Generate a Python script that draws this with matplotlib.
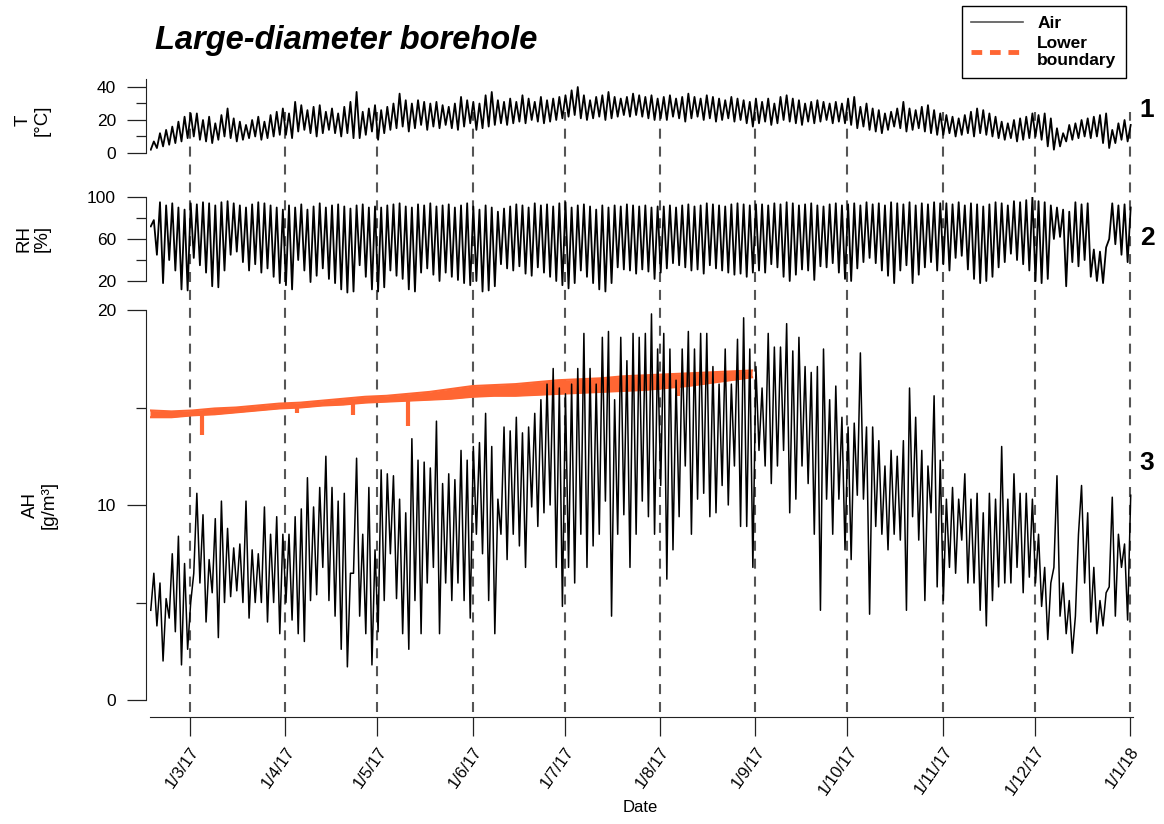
import numpy as np
import matplotlib
matplotlib.use("Agg")
import matplotlib.pyplot as plt
import matplotlib.dates as mdates
from matplotlib.lines import Line2D
from matplotlib.ticker import FixedLocator, FuncFormatter

plt.rcParams['font.family'] = ['Liberation Sans', 'DejaVu Sans']

# one low and one high every two days, starting 16 Feb 2017
start = np.datetime64('2017-02-16T00:00')

# Air temperature [°C]
t_high = [7, 12, 14, 16, 19, 22, 24,                                          # Feb
          24, 20, 22, 18, 23, 27, 21, 19, 17, 20, 22, 19, 23, 25, 27,         # Mar
          24, 31, 29, 26, 28, 29, 25, 27, 24, 28, 31, 37, 25, 27, 29,         # Apr
          26, 28, 30, 36, 32, 30, 32, 31, 30, 31, 29, 28, 30, 34, 32, 31,     # May
          30, 35, 37, 32, 31, 33, 31, 35, 33, 31, 34, 32, 33, 34, 35,         # Jun
          38, 40, 35, 32, 34, 35, 37, 34, 33, 34, 36, 35, 34, 35, 33,         # Jul
          34, 35, 33, 34, 36, 34, 33, 35, 34, 33, 32, 34, 33, 32, 31, 33,     # Aug
          31, 33, 30, 34, 35, 33, 32, 30, 31, 32, 31, 30, 31, 30, 33,         # Sep
          34, 28, 30, 27, 26, 24, 25, 27, 31, 27, 26, 28, 29, 26, 24,         # Oct
          23, 22, 21, 23, 25, 27, 26, 24, 22, 19, 18, 20, 21, 22, 24,         # Nov
          23, 24, 21, 15, 12, 17, 18, 20, 21, 22, 23, 24, 14, 18, 20, 17]     # Dec
t_low = [2, 3, 4, 5, 6, 7, 9,
         10, 8, 7, 6, 8, 10, 9, 7, 8, 9, 10, 8, 9, 10, 11,
         11, 9, 13, 14, 12, 10, 12, 14, 12, 10, 12, 9, 9, 11, 13,
         8, 12, 14, 15, 16, 13, 15, 17, 14, 16, 15, 17, 15, 14, 16, 18,
         14, 15, 16, 17, 18, 17, 18, 19, 18, 20, 19, 18, 19, 20, 21,
         22, 23, 21, 20, 21, 22, 20, 21, 22, 23, 22, 23, 22, 21, 20,
         21, 20, 22, 21, 19, 21, 22, 20, 21, 19, 20, 21, 19, 20, 18, 16,
         18, 19, 17, 18, 20, 19, 18, 17, 19, 18, 19, 20, 18, 19, 18,
         17, 15, 16, 14, 13, 12, 14, 16, 15, 13, 14, 15, 13, 12, 11,
         11, 12, 10, 11, 12, 10, 12, 11, 10, 9, 8, 9, 7, 8, 9,
         10, 8, 4, 2, 4, 7, 8, 9, 10, 9, 10, 6, 3, 6, 8, 7]

# Relative humidity [%]
rh_high = [78, 95, 92, 94, 90, 88, 94,
           93, 95, 94, 92, 95, 96, 94, 92, 90, 93, 95, 94, 92, 90, 88,
           92, 90, 93, 88, 91, 94, 90, 92, 93, 91, 89, 92, 93, 90, 91,
           90, 92, 93, 94, 91, 90, 93, 92, 94, 91, 92, 93, 90, 92, 94, 91,
           88, 92, 90, 86, 89, 91, 93, 92, 90, 94, 92, 93, 91, 94, 95,
           90, 92, 93, 91, 88, 92, 90, 92, 91, 93, 92, 91, 92, 90, 91,
           91, 92, 90, 92, 93, 91, 92, 94, 93, 92, 91, 93, 94, 93, 92, 93,
           93, 92, 94, 93, 95, 94, 92, 93, 94, 92, 91, 93, 94, 92, 93,
           94, 92, 95, 93, 94, 92, 95, 94, 93, 95, 92, 94, 93, 95, 94,
           94, 93, 95, 92, 94, 93, 91, 93, 95, 94, 92, 96, 95, 97, 100,
           96, 95, 92, 90, 88, 86, 95, 93, 94, 50, 48, 52, 94, 92, 93, 90]
rh_low = [72, 45, 18, 40, 30, 12, 11,
          42, 35, 28, 15, 14, 30, 45, 48, 38, 30, 36, 28, 32, 24, 18,
          16, 12, 40, 30, 19, 25, 32, 22, 18, 12, 9, 10, 35, 24, 12,
          10, 14, 30, 25, 22, 12, 10, 28, 32, 26, 20, 28, 24, 21, 18, 16,
          20, 10, 11, 15, 36, 32, 30, 34, 27, 25, 33, 28, 24, 20, 16,
          13, 18, 30, 24, 18, 12, 10, 18, 33, 31, 30, 27, 31, 29, 22,
          28, 32, 37, 35, 33, 30, 31, 27, 35, 32, 30, 28, 26, 27, 24, 28,
          30, 28, 36, 33, 24, 20, 26, 31, 30, 21, 34, 33, 37, 28, 22,
          20, 32, 38, 42, 37, 30, 25, 18, 30, 35, 18, 26, 33, 38, 30,
          36, 30, 42, 44, 31, 22, 18, 20, 24, 33, 38, 46, 40, 36, 30,
          20, 18, 22, 60, 62, 15, 38, 34, 40, 24, 20, 18, 60, 55, 45, 38]

# Absolute humidity [g/m3]
ah_high = [6.5, 6.0, 5.2, 7.5, 8.4, 7.0, 5.0,
           10.6, 9.5, 7.2, 9.3, 10.2, 8.8, 7.8, 8.0, 10.2, 7.7, 7.5, 9.9, 8.5, 9.4, 8.5,
           8.5, 9.4, 9.8, 11.4, 9.9, 10.9, 12.5, 10.9, 10.2, 10.6, 6.5, 12.4, 8.5, 10.9, 7.7,
           11.8, 11.6, 11.5, 10.3, 9.6, 13.4, 12.3, 12.2, 11.9, 14.3, 11.1, 11.6, 11.3, 12.8, 12.3, 13.0,
           13.2, 14.7, 13.0, 10.3, 14.0, 13.8, 14.5, 13.7, 14.0, 14.7, 15.4, 16.2, 17.0, 16.0, 15.7,
           16.2, 17.0, 18.8, 17.0, 16.2, 18.6, 18.9, 15.4, 18.6, 17.4, 18.8, 18.6, 18.8, 19.8, 18.0,
           18.8, 18.0, 16.4, 18.0, 18.9, 18.0, 18.8, 18.8, 17.1, 16.2, 18.0, 16.2, 18.5, 19.6, 18.0, 17.1,
           16.0, 18.8, 18.1, 18.1, 19.3, 17.9, 18.6, 17.1, 16.8, 17.1, 18.0, 15.4, 16.1, 14.5, 14.0,
           14.2, 17.8, 14.0, 14.0, 13.3, 12.0, 12.8, 12.5, 13.3, 16.0, 14.5, 12.8, 12.0, 15.6, 12.3,
           10.3, 10.9, 10.3, 11.6, 10.3, 10.6, 9.6, 10.6, 10.3, 13.0, 10.3, 11.6, 10.6, 10.6, 10.3,
           8.5, 6.8, 6.0, 11.5, 6.0, 5.1, 4.3, 11.0, 9.6, 6.8, 5.1, 5.5, 10.4, 8.5, 8.0, 10.5]
ah_low = [4.6, 3.8, 2.0, 4.2, 3.5, 1.8, 2.6,
          6.5, 6.0, 4.0, 5.5, 3.2, 5.0, 5.3, 5.6, 5.0, 4.2, 5.0, 5.0, 4.0, 5.0, 3.4,
          5.0, 4.1, 3.4, 3.0, 5.1, 5.4, 6.8, 5.1, 4.3, 2.6, 1.7, 6.5, 4.3, 3.4, 1.8,
          3.5, 5.1, 7.5, 5.2, 3.4, 2.6, 5.1, 3.4, 6.0, 6.8, 3.4, 6.0, 5.1, 6.0, 5.1, 4.2,
          8.5, 7.5, 5.1, 3.4, 8.5, 7.2, 8.5, 7.9, 6.8, 9.9, 8.9, 9.6, 10.0, 6.8, 4.8,
          6.8, 6.0, 8.5, 6.8, 7.9, 8.5, 10.2, 4.3, 8.5, 9.5, 6.8, 8.5, 10.2, 9.4, 8.5,
          11.0, 6.2, 7.7, 9.4, 12.0, 8.5, 10.3, 10.6, 9.4, 9.6, 11.0, 10.0, 12.0, 8.9, 8.9, 6.8,
          12.8, 12.0, 11.1, 12.0, 12.8, 9.6, 10.3, 12.0, 11.1, 8.5, 4.6, 10.3, 8.5, 10.3, 7.7,
          7.2, 10.5, 10.3, 4.4, 8.9, 8.5, 7.7, 8.5, 8.2, 4.6, 9.4, 8.2, 5.1, 9.6, 5.8,
          5.1, 6.8, 6.5, 8.2, 6.0, 6.0, 4.6, 3.8, 5.1, 5.8, 6.0, 6.0, 6.8, 5.5, 6.3,
          6.0, 4.8, 3.1, 6.8, 4.3, 3.4, 2.4, 8.5, 6.0, 4.0, 3.4, 3.8, 5.8, 4.3, 6.8, 4.1]

# Lower boundary AH, weekly upper / lower edge of the band
lb_upper = [14.85, 14.8, 14.85, 14.95, 15.0, 15.1, 15.2, 15.25, 15.35, 15.45,
            15.55, 15.6, 15.7, 15.8, 15.95, 16.1, 16.15, 16.2, 16.3, 16.4,
            16.45, 16.5, 16.6, 16.65, 16.7, 16.75, 16.8, 16.85, 16.9]
lb_lower = [14.5, 14.5, 14.6, 14.65, 14.75, 14.85, 14.95, 15.0, 15.1, 15.15,
            15.25, 15.3, 15.35, 15.4, 15.45, 15.55, 15.6, 15.6, 15.65, 15.7,
            15.75, 15.8, 15.85, 15.9, 16.0, 16.1, 16.25, 16.4, 16.55]
lb_dip_dates = ['2017-03-05', '2017-04-05', '2017-04-23', '2017-05-11', '2017-08-07']
lb_dip_top = [14.8, 15.2, 15.4, 15.6, 16.3]
lb_dip_value = [13.6, 14.7, 14.6, 14.05, 15.6]

month_ticks = ['2017-03-01', '2017-04-01', '2017-05-01', '2017-06-01', '2017-07-01',
               '2017-08-01', '2017-09-01', '2017-10-01', '2017-11-01', '2017-12-01',
               '2018-01-01']


def zigzag(lows, highs, step_h=48):
    t, v = [], []
    for i in range(len(lows)):
        t.append(start + np.timedelta64(step_h * i + 6, 'h'))
        v.append(lows[i])
        t.append(start + np.timedelta64(step_h * i + 6 + step_h // 2, 'h'))
        v.append(highs[i])
    return np.array(t), np.array(v)


W, H = 1164, 824
fig = plt.figure(figsize=(W / 100, H / 100), dpi=100)

x0, x1 = 150 / W, 1133 / W
xlim = (np.datetime64('2017-02-16'), np.datetime64('2018-01-02'))
ticks = [np.datetime64(d) for d in month_ticks]
dark = '#222222'
orange = '#FF6633'

# background layer with the dashed month lines
bg = fig.add_axes([x0, 1 - 712 / H, x1 - x0, 600 / H], zorder=0)
bg.set_xlim(*xlim)
bg.set_ylim(0, 1)
bg.axis('off')
for d in ticks:
    bg.axvline(d, color='#555555', lw=1.5, linestyle=(0, (4.8, 3.8)))


def panel(top_px, bot_px, ylim, bounds, major, minor):
    ax = fig.add_axes([x0, 1 - bot_px / H, x1 - x0, (bot_px - top_px) / H], zorder=1)
    ax.set_facecolor('none')
    ax.set_xlim(*xlim)
    ax.set_ylim(*ylim)
    for s in ['top', 'right']:
        ax.spines[s].set_visible(False)
    ax.spines['left'].set_bounds(*bounds)
    ax.spines['left'].set_position(('outward', 3))
    ax.spines['left'].set_color(dark)
    ax.yaxis.set_major_locator(FixedLocator(major))
    ax.yaxis.set_minor_locator(FixedLocator(minor))
    ax.tick_params(axis='y', which='major', length=13.5, width=0.9, color=dark,
                   labelsize=12.5, pad=8)
    ax.tick_params(axis='y', which='minor', length=7, width=0.9, color=dark)
    return ax


# 1: temperature
ax1 = panel(78.75, 153, (0, 45), (0, 45), [0, 20, 40], [10, 30])
ax1.spines['bottom'].set_visible(False)
ax1.set_xticks([])
tt, tv = zigzag(t_low, t_high)
ax1.plot(tt, tv, color='black', lw=1.3, zorder=3)

# 2: relative humidity
ax2 = panel(197, 293.6, (8, 100), (20, 100), [20, 60, 100], [40, 80])
ax2.spines['bottom'].set_visible(False)
ax2.set_xticks([])
rt, rv = zigzag(rh_low, rh_high)
ax2.plot(rt, rv, color='black', lw=1.3, zorder=3)

# 3: absolute humidity
ax3 = panel(310, 700, (0, 20), (0, 20), [0, 10, 20], [5, 15])
ax3.spines['bottom'].set_position(('outward', 12))
ax3.spines['bottom'].set_color(dark)
ax3.set_xticks(ticks)
ax3.xaxis.set_major_formatter(FuncFormatter(
    lambda x, pos: '{d.day}/{d.month}/{y}'.format(d=mdates.num2date(x), y=mdates.num2date(x).strftime('%y'))))
ax3.tick_params(axis='x', which='major', length=13.5, width=0.9, color=dark,
                labelsize=12, pad=6)
for lab in ax3.get_xticklabels():
    lab.set_rotation(55)
    lab.set_ha('right')
    lab.set_va('top')
    lab.set_rotation_mode('anchor')

lt = [start + np.timedelta64(7 * 24 * i, 'h') for i in range(len(lb_upper))]
ax3.fill_between(lt, lb_lower, lb_upper, color=orange, lw=0, zorder=2)
ax3.plot(lt, lb_upper, color=orange, lw=1.5, zorder=2)
ax3.plot(lt, lb_lower, color=orange, lw=1.5, zorder=2)
ax3.vlines([np.datetime64(d) for d in lb_dip_dates], lb_dip_value, lb_dip_top,
           color=orange, lw=3.0, zorder=2)

at, av = zigzag(ah_low, ah_high)
ax3.plot(at, av, color='black', lw=1.1, zorder=3)

# texts
fig.text(155 / W, 1 - 40 / H, 'Large-diameter borehole', fontsize=23.5,
         weight='bold', style='italic', ha='left', va='center')
fig.text(33 / W, 1 - 120 / H, 'T\n[°C]', rotation=90, ha='center', va='center',
         fontsize=13.5, linespacing=1.15)
fig.text(33 / W, 1 - 238 / H, 'RH\n[%]', rotation=90, ha='center', va='center',
         fontsize=13.5, linespacing=1.15)
fig.text(40 / W, 1 - 505 / H, 'AH\n[g/m³]', rotation=90, ha='center', va='center',
         fontsize=13.5, linespacing=1.15)
fig.text(640 / W, 1 - 808 / H, 'Date', fontsize=12, ha='center', va='center')
for lab, ypx in zip(['1', '2', '3'], [110, 238, 463]):
    fig.text(1147 / W, 1 - ypx / H, lab, fontsize=19, weight='bold',
             ha='center', va='center')

h_air = Line2D([], [], color='#555555', lw=1.2)
h_lb = Line2D([], [], color=orange, lw=3.5, linestyle=(0, (2.2, 1.6)))
leg = fig.legend([h_air, h_lb], ['Air', 'Lower\nboundary'], loc='upper right',
                 bbox_to_anchor=(1126 / W, 1 - 6 / H), frameon=True, fancybox=False,
                 edgecolor='black', framealpha=1, prop={'weight': 'bold', 'size': 12.5},
                 handlelength=3.0, borderpad=0.55, labelspacing=0.3,
                 handletextpad=0.8, borderaxespad=0)
leg.get_frame().set_linewidth(1.0)

fig.savefig('out.png', dpi=100)
